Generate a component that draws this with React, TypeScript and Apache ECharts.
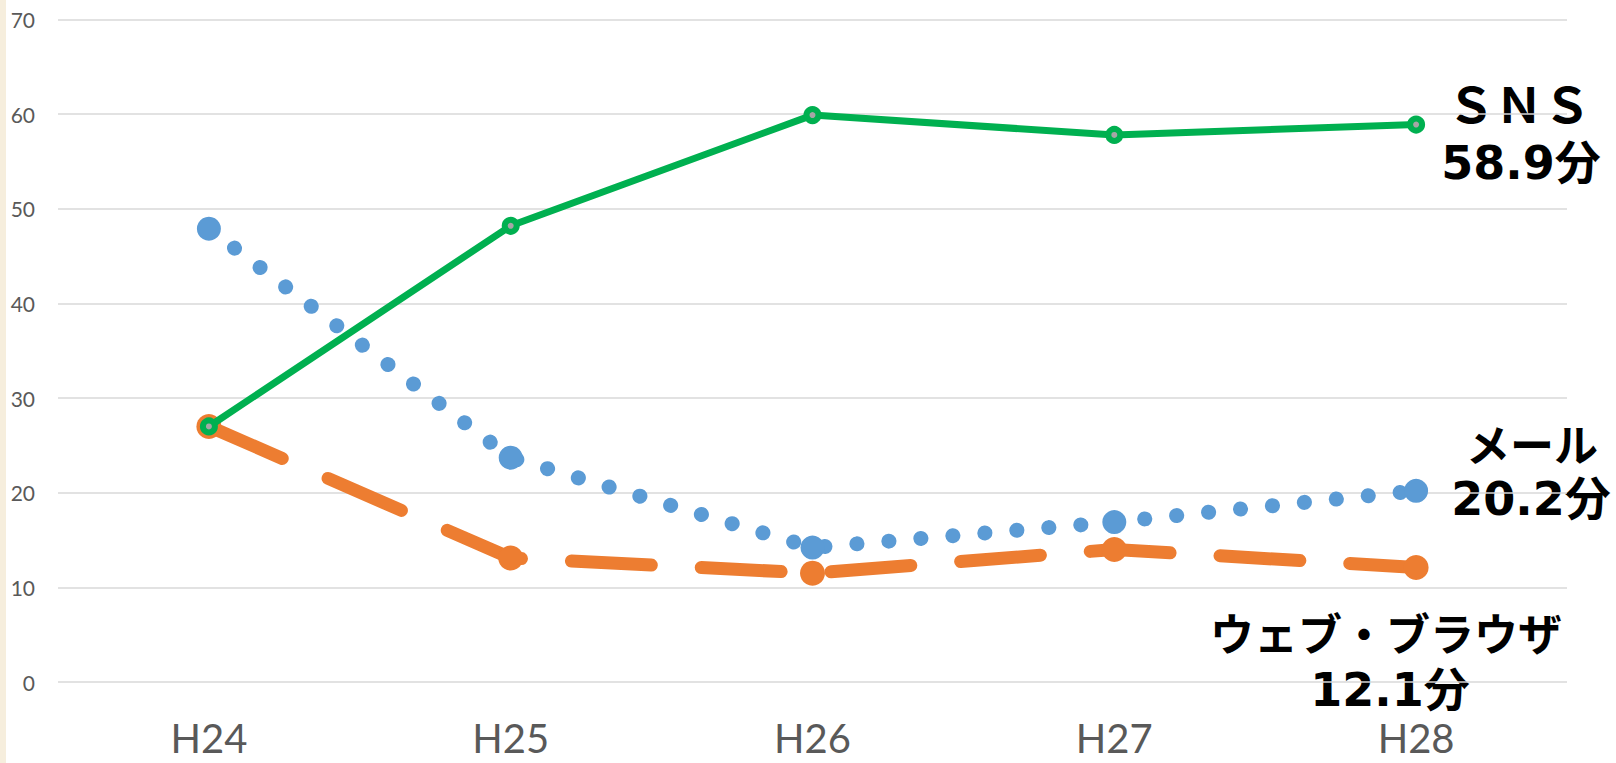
import React, { useEffect, useRef } from "react";
import * as echarts from "echarts";

const categories = ["H24", "H25", "H26", "H27", "H28"];
const snsValues = [27.0, 48.2, 59.9, 57.8, 58.9];
const mailValues = [47.9, 23.7, 14.2, 16.9, 20.2];
const webValues = [27.0, 13.1, 11.5, 14.0, 12.1];
const yTicks = { min: 0, max: 70, interval: 10 };
const seriesNames = ["ＳＮＳ", "メール", "ウェブ・ブラウザ"];

const JP = '"Noto Sans CJK JP", sans-serif';
const NUM = '"DejaVu Sans", "Noto Sans CJK JP", sans-serif';
const AXIS_FONT = 'Lato, "Open Sans", sans-serif';

export default function App() {
  const ref = useRef<HTMLDivElement>(null);
  useEffect(() => {
    if (!ref.current) return;
    const chart = echarts.init(ref.current, undefined, { renderer: "svg" });
    const last = (a: number[]) => a[a.length - 1].toFixed(1) + "分";
    const txt = (text: string, x: number, y: number, size: number, family: string) => ({
      type: "text",
      x,
      y,
      style: {
        text,
        fill: "#000000",
        font: `bold ${size}px ${family}`,
        textAlign: "center",
        textVerticalAlign: "middle",
      },
    });
    chart.setOption({
      animation: false,
      backgroundColor: "#ffffff",
      grid: { left: 58, right: 49, top: 19.5, bottom: 81, containLabel: false },
      xAxis: {
        type: "category",
        data: categories,
        boundaryGap: true,
        axisLine: { show: false },
        axisTick: { show: false },
        axisLabel: {
          color: "#595959",
          fontSize: 40,
          lineHeight: 40,
          fontFamily: AXIS_FONT,
          margin: 36,
        },
      },
      yAxis: {
        type: "value",
        min: yTicks.min,
        max: yTicks.max,
        interval: yTicks.interval,
        axisLine: { show: false },
        axisTick: { show: false },
        splitLine: { lineStyle: { color: "#D9D9D9", width: 1.5 } },
        axisLabel: { color: "#595959", fontSize: 21, fontFamily: AXIS_FONT, margin: 23 },
      },
      series: [
        {
          name: seriesNames[2],
          type: "line",
          data: webValues,
          symbol: "circle",
          symbolSize: 25,
          itemStyle: { color: "#ED7D31" },
          lineStyle: { color: "#ED7D31", width: 13, type: [80, 50], cap: "round" },
          z: 2,
        },
        {
          name: seriesNames[1],
          type: "line",
          data: mailValues,
          symbol: "circle",
          symbolSize: 24,
          itemStyle: { color: "#5B9BD5" },
          lineStyle: { color: "#5B9BD5", width: 15, type: [0.1, 32], cap: "round" },
          z: 3,
        },
        {
          name: seriesNames[0],
          type: "line",
          data: snsValues,
          symbol: "circle",
          symbolSize: 12,
          itemStyle: { color: "#A6A6A6", borderColor: "#00B050", borderWidth: 6 },
          lineStyle: { color: "#00B050", width: 7 },
          z: 4,
        },
      ],
      graphic: [
        { type: "rect", left: 0, top: 0, shape: { x: 0, y: 0, width: 6, height: 763 }, style: { fill: "#F6EEDD" } },
        txt(seriesNames[0], 1519, 102, 48, JP),
        txt(last(snsValues), 1521, 163, 46, NUM),
        txt(seriesNames[1], 1532, 443, 44, JP),
        txt(last(mailValues), 1531, 499, 46, NUM),
        txt(seriesNames[2], 1386, 632, 44, JP),
        txt(last(webValues), 1390, 690, 46, NUM),
      ],
    });
    return () => chart.dispose();
  }, []);
  return (
    <div
      ref={ref}
      style={{ position: "fixed", left: 0, top: 0, width: 1616, height: 763, background: "#fff" }}
    />
  );
}
